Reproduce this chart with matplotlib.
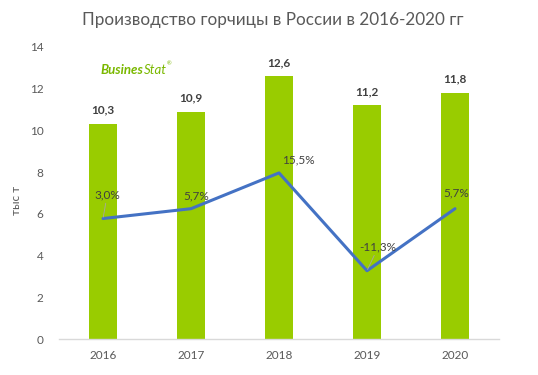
import matplotlib
matplotlib.use("Agg")
import matplotlib.pyplot as plt
import numpy as np

years = ["2016", "2017", "2018", "2019", "2020"]
production = [10.3, 10.9, 12.6, 11.2, 11.8]
growth = [3.0, 5.7, 15.5, -11.3, 5.7]
bar_labels = ["10,3", "10,9", "12,6", "11,2", "11,8"]
growth_labels = ["3,0%", "5,7%", "15,5%", "-11,3%", "5,7%"]
yticks = [0, 2, 4, 6, 8, 10, 12, 14]

plt.rcParams['font.family'] = ['Lato', 'DejaVu Sans']
GREY = "#595959"

fig = plt.figure(figsize=(5.38, 3.75), dpi=100)
ax = fig.add_axes([0.1097, 0.096, 0.8178, 0.7787])
x = np.arange(len(years))
ax.bar(x, production, width=0.31, color="#99CC00", zorder=2)
ax.set_xlim(-0.5, len(years) - 0.5)
ax.set_ylim(0, 14)
ax.set_yticks(yticks)
ax.set_yticklabels([str(v) for v in yticks])
ax.set_xticks(x)
ax.set_xticklabels(years)
ax.tick_params(axis='both', length=0, labelsize=8.5, colors=GREY)
ax.tick_params(axis='y', pad=11)
ax.tick_params(axis='x', pad=8)
for s in ["top", "right", "left"]:
    ax.spines[s].set_visible(False)
ax.spines["bottom"].set_color("#D9D9D9")
ax.spines["bottom"].set_linewidth(1)
fig.text(16 / 538, 1 - 200 / 375, "тыс т", rotation=90, ha="center", va="center",
         fontsize=8.5, color=GREY)

for xi, v, lab in zip(x, production, bar_labels):
    ax.annotate(lab, (xi, v), xytext=(0, 6), textcoords="offset points",
                ha="center", va="bottom", fontsize=8.5, fontweight="bold", color="#404040")

ax2 = ax.twinx()
ax2.set_ylim(-30, 50)
ax2.plot(x, growth, color="#4472C4", linewidth=2.2, zorder=3, solid_capstyle="round")
ax2.axis("off")

offsets = [(3, 17), (4, 9), (14, 9), (8, 17), (1, 11)]
leaders = [True, False, False, True, False]
for xi, g, lab, off, ld in zip(x, growth, growth_labels, offsets, leaders):
    kw = {}
    if ld:
        kw["arrowprops"] = dict(arrowstyle="-", color="#A6A6A6", lw=0.6, shrinkA=0, shrinkB=1)
    ax2.annotate(lab, (xi, g), xytext=off, textcoords="offset points",
                 ha="center", va="center", fontsize=8.5, color="#404040", **kw)

fig.text(273 / 538, 0.947, "Производство горчицы в России в 2016-2020 гг",
         ha="center", va="center", fontsize=12.3, color=GREY)

# logo
fig.canvas.draw()
r = fig.canvas.get_renderer()
t1 = fig.text(100 / 538, 1 - 70 / 375, "Busines", ha="left", va="center", fontsize=9.5,
              fontweight="bold", style="italic", color="#7AB800")
bb = t1.get_window_extent(r)
t2 = fig.text(bb.x1 / 538 + 0.001, 1 - 70 / 375, "Stat", ha="left", va="center", fontsize=9.5,
              style="italic", color="#7AB800")
bb2 = t2.get_window_extent(r)
fig.text(bb2.x1 / 538, 1 - 64 / 375, "®", ha="left", va="center", fontsize=4, color="#7AB800")

fig.savefig("out.png", dpi=100)
